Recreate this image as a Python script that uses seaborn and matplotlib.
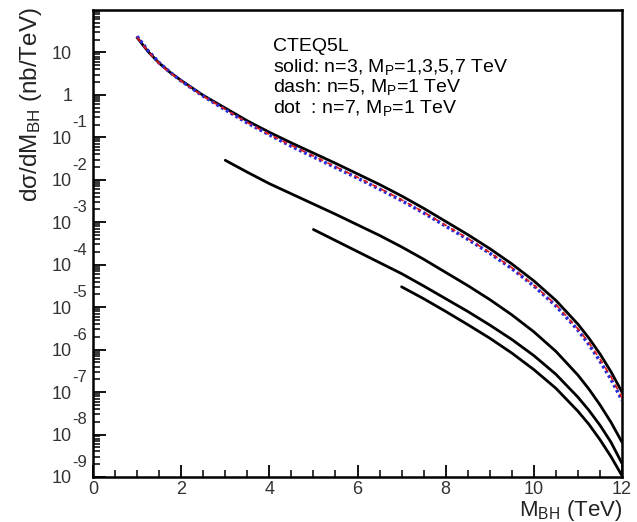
import numpy as np
import pandas as pd
import matplotlib
matplotlib.use("Agg")
import matplotlib.pyplot as plt
from matplotlib.ticker import FixedLocator, LogLocator, MultipleLocator, NullFormatter
import seaborn as sns

# ---------------- data: log10 of dsigma/dM_BH in nb/TeV ----------------
mass_mp1 = [1.0, 1.25, 1.5, 1.75, 2.0, 2.5, 3.0, 3.5, 4.0, 4.5, 5.0, 5.5, 6.0,
            6.5, 7.0, 7.5, 8.0, 8.5, 9.0, 9.5, 10.0, 10.5, 11.0, 11.25, 11.5,
            11.75, 12.0]
log_n3_mp1 = [1.35, 1.02, 0.75, 0.53, 0.34, -0.01, -0.31, -0.61, -0.88, -1.13,
              -1.37, -1.61, -1.86, -2.11, -2.38, -2.67, -2.98, -3.29, -3.62,
              -3.98, -4.38, -4.84, -5.40, -5.73, -6.10, -6.52, -7.00]
log_n5_mp1 = [1.35, 1.02, 0.74, 0.52, 0.33, -0.03, -0.34, -0.65, -0.93, -1.19,
              -1.44, -1.69, -1.94, -2.20, -2.47, -2.76, -3.07, -3.38, -3.71,
              -4.07, -4.48, -4.94, -5.51, -5.84, -6.22, -6.64, -7.13]
log_n7_mp1 = [1.38, 1.04, 0.76, 0.53, 0.33, -0.03, -0.35, -0.66, -0.94, -1.21,
              -1.46, -1.71, -1.96, -2.22, -2.49, -2.78, -3.09, -3.40, -3.73,
              -4.09, -4.50, -4.97, -5.54, -5.88, -6.27, -6.70, -7.19]

mass_mp3 = [3.0, 3.5, 4.0, 4.5, 5.0, 5.5, 6.0, 6.5, 7.0, 7.5, 8.0, 8.5, 9.0,
            9.5, 10.0, 10.5, 11.0, 11.25, 11.5, 11.75, 12.0]
log_n3_mp3 = [-1.54, -1.82, -2.09, -2.33, -2.57, -2.81, -3.06, -3.31, -3.58,
              -3.87, -4.18, -4.49, -4.82, -5.18, -5.58, -6.04, -6.60, -6.93,
              -7.30, -7.71, -8.18]

mass_mp5 = [5.0, 5.5, 6.0, 6.5, 7.0, 7.5, 8.0, 8.5, 9.0, 9.5, 10.0, 10.5, 11.0,
            11.25, 11.5, 11.75, 12.0]
log_n3_mp5 = [-3.17, -3.43, -3.69, -3.95, -4.21, -4.50, -4.80, -5.10, -5.42,
              -5.76, -6.14, -6.58, -7.12, -7.43, -7.78, -8.18, -8.68]

mass_mp7 = [7.0, 7.5, 8.0, 8.5, 9.0, 9.5, 10.0, 10.5, 11.0, 11.25, 11.5,
            11.75, 12.0]
log_n3_mp7 = [-4.52, -4.80, -5.10, -5.41, -5.73, -6.08, -6.47, -6.91, -7.45,
              -7.76, -8.12, -8.52, -8.97]

y_tick_exponents = [-9, -8, -7, -6, -5, -4, -3, -2, -1, 0, 1]
x_tick_values = [0, 2, 4, 6, 8, 10, 12]

legend_lines = [
    "CTEQ5L",
    "solid: n=3, M$_{\\rm P}$=1,3,5,7 TeV",
    "dash: n=5, M$_{\\rm P}$=1 TeV",
    "dot  : n=7, M$_{\\rm P}$=1 TeV",
]

# ---------------- style ----------------
sns.set_style("white")
plt.rcParams["font.family"] = ["Liberation Sans", "DejaVu Sans"]
plt.rcParams["mathtext.fontset"] = "custom"
plt.rcParams["mathtext.rm"] = "Liberation Sans"
plt.rcParams["mathtext.it"] = "Liberation Sans:italic"
plt.rcParams["mathtext.bf"] = "Liberation Sans:bold"

fig = plt.figure(figsize=(6.37, 5.22), dpi=100)
fig.patch.set_facecolor("white")
ax = fig.add_axes([93 / 637, 45 / 522, 529 / 637, 467 / 522])
ax.set_facecolor("white")


def draw_curve(mass, logs, **kw):
    frame = pd.DataFrame({"mass": mass, "sigma": 10.0 ** np.asarray(logs)})
    sns.lineplot(data=frame, x="mass", y="sigma", ax=ax, estimator=None,
                 sort=False, legend=False, **kw)


# solid n=3 curves for M_P = 1, 3, 5, 7 TeV
for m, lg in [(mass_mp1, log_n3_mp1), (mass_mp3, log_n3_mp3),
              (mass_mp5, log_n3_mp5), (mass_mp7, log_n3_mp7)]:
    draw_curve(m, lg, color="black", linewidth=2.0, zorder=3)

# dotted n=7 and dashed n=5 curves for M_P = 1 TeV
draw_curve(mass_mp1, log_n7_mp1, color="#2a2ad8", linewidth=2.5,
           linestyle=(0, (0.8, 0.8)), zorder=4)
draw_curve(mass_mp1, log_n5_mp1, color="#e01818", linewidth=1.2,
           linestyle=(0, (3, 3)), zorder=5)

ax.set_yscale("log")
ax.set_xlim(0, 12)
ax.set_ylim(1e-9, 1e2)

# axes frame and ticks
for sp in ax.spines.values():
    sp.set_visible(True)
    sp.set_color("black")
    sp.set_linewidth(1.8)

ax.xaxis.set_major_locator(FixedLocator(x_tick_values))
ax.xaxis.set_minor_locator(MultipleLocator(0.5))
ax.set_xticklabels([str(v) for v in x_tick_values])

ax.yaxis.set_major_locator(FixedLocator([10.0 ** e for e in y_tick_exponents]))
ax.set_yticklabels(["1" if e == 0 else "10" for e in y_tick_exponents])
ax.yaxis.set_minor_locator(LogLocator(base=10, subs=np.arange(2, 10), numticks=30))
ax.yaxis.set_minor_formatter(NullFormatter())

ax.tick_params(axis="both", which="both", direction="in", color="black",
               left=True, bottom=True, right=False, top=False)
ax.tick_params(axis="both", which="major", length=9, width=1.3)
ax.tick_params(axis="both", which="minor", length=5, width=1.1)
ax.tick_params(axis="y", which="major", pad=15, labelsize=13, labelcolor="#333333")
ax.tick_params(axis="x", which="major", pad=3, labelsize=13, labelcolor="#333333")

# exponents for the negative decades
for e in y_tick_exponents:
    if e < 0:
        ax.annotate(str(e), xy=(0, 10.0 ** e), xycoords=("axes fraction", "data"),
                    xytext=(-15.2, 10.5), textcoords="offset points",
                    ha="left", va="center", fontsize=12, color="#333333",
                    annotation_clip=False)

ax.set_xlabel("M$_{\\rm BH}$ (TeV)", fontsize=16, color="#222222",
              loc="right", labelpad=0)
ax.set_ylabel("d\u03c3/dM$_{\\rm BH}$ (nb/TeV)", fontsize=17.5, color="#222222",
              loc="top")
ax.yaxis.set_label_coords(-0.093, 1.005)

# annotation block
legend_y = [0.912, 0.868, 0.824, 0.780]
for txt, yy in zip(legend_lines, legend_y):
    ax.text(0.340, yy, txt, transform=ax.transAxes, fontsize=14,
            color="black", ha="left", va="baseline")

fig.savefig("out.png", dpi=100, facecolor="white")
